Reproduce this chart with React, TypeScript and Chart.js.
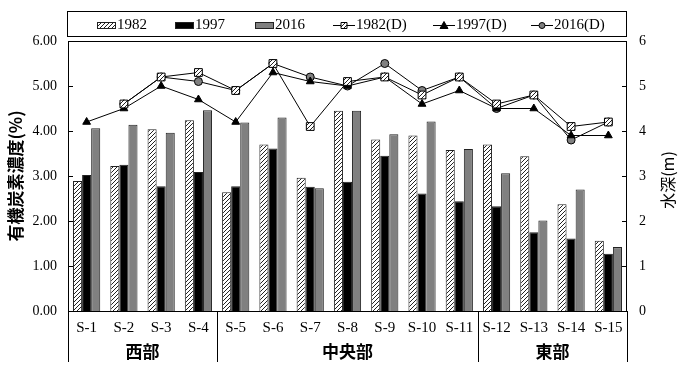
import React, { useEffect, useRef } from 'react';
import { Chart, registerables } from 'chart.js';

Chart.register(...registerables);

const categories = ['S-1', 'S-2', 'S-3', 'S-4', 'S-5', 'S-6', 'S-7', 'S-8', 'S-9', 'S-10', 'S-11', 'S-12', 'S-13', 'S-14', 'S-15'];
const regionNames = ['西部', '中央部', '東部'];
const regionFirst = [0, 4, 11];
const regionLast = [3, 10, 14];

const toc1982 = [2.89, 3.22, 4.04, 4.24, 2.64, 3.70, 2.96, 4.45, 3.81, 3.90, 3.58, 3.70, 3.44, 2.37, 1.56];
const toc1997 = [3.02, 3.25, 2.77, 3.09, 2.77, 3.61, 2.76, 2.87, 3.45, 2.61, 2.44, 2.33, 1.75, 1.61, 1.27];
const toc2016 = [4.06, 4.14, 3.96, 4.46, 4.19, 4.30, 2.73, 4.45, 3.93, 4.21, 3.60, 3.06, 2.01, 2.70, 1.42];

const depth1982 = [null, 4.6, 5.2, 5.3, 4.9, 5.5, 4.1, 5.1, 5.2, 4.8, 5.2, 4.6, 4.8, 4.1, 4.2];
const depth1997 = [4.2, 4.5, 5.0, 4.7, 4.2, 5.3, 5.1, 5.0, 5.2, 4.6, 4.9, 4.5, 4.5, 3.9, 3.9];
const depth2016 = [null, 4.6, 5.2, 5.1, 4.9, 5.5, 5.2, 5.0, 5.5, 4.9, 5.2, 4.5, 4.8, 3.8, 4.2];

const leftTicks = [0, 1, 2, 3, 4, 5, 6];
const leftTitle = '有機炭素濃度(%)';
const rightTitle = '水深(m)';
const barLabels = ['1982', '1997', '2016'];
const lineLabels = ['1982(D)', '1997(D)', '2016(D)'];

const SERIF = '"Liberation Serif", "Times New Roman", serif';
const CJK = '"Noto Sans CJK JP", "Noto Sans", sans-serif';
const GRAY = '#808080';

function makeHatch(): CanvasPattern {
  const c = document.createElement('canvas');
  c.width = 4;
  c.height = 4;
  const g = c.getContext('2d')!;
  g.fillStyle = '#fff';
  g.fillRect(0, 0, 4, 4);
  g.strokeStyle = '#222';
  g.lineWidth = 1;
  g.beginPath();
  g.moveTo(0, 4); g.lineTo(4, 0);
  g.moveTo(-1, 1); g.lineTo(1, -1);
  g.moveTo(3, 5); g.lineTo(5, 3);
  g.stroke();
  return g.createPattern(c, 'repeat')!;
}

export default function App() {
  const ref = useRef<HTMLCanvasElement | null>(null);

  useEffect(() => {
    const canvas = ref.current;
    if (!canvas) return;
    const hatch = makeHatch();

    const decor = {
      id: 'decor',
      afterDraw(chart: any) {
        const { ctx, chartArea, scales } = chart;
        const { left, right, top, bottom } = chartArea;
        ctx.save();
        ctx.strokeStyle = '#000';
        ctx.fillStyle = '#000';
        ctx.lineWidth = 1;
        // frame
        ctx.strokeRect(left + 0.5, top + 0.5, right - left - 1, bottom - top);
        // inward ticks
        ctx.beginPath();
        for (const v of leftTicks) {
          const y = Math.round(scales.y.getPixelForValue(v)) + 0.5;
          ctx.moveTo(left, y); ctx.lineTo(left + 5, y);
          const y2 = Math.round(scales.y1.getPixelForValue(v)) + 0.5;
          ctx.moveTo(right - 5, y2); ctx.lineTo(right, y2);
        }
        ctx.stroke();
        // region separators and names
        const xs = scales.x;
        const boundary = (i: number) => {
          if (i <= 0) return left;
          if (i >= categories.length) return right;
          return (xs.getPixelForValue(i - 1) + xs.getPixelForValue(i)) / 2;
        };
        ctx.beginPath();
        const bset = new Set<number>();
        regionFirst.forEach((f) => bset.add(f));
        regionLast.forEach((l) => bset.add(l + 1));
        bset.forEach((i) => {
          const x = Math.round(boundary(i)) + 0.5;
          ctx.moveTo(x, bottom); ctx.lineTo(x, bottom + 51);
        });
        ctx.stroke();
        ctx.font = `bold 17px ${CJK}`;
        ctx.textAlign = 'center';
        ctx.textBaseline = 'middle';
        regionNames.forEach((name, k) => {
          const cx = (boundary(regionFirst[k]) + boundary(regionLast[k] + 1)) / 2;
          ctx.fillText(name, cx, 352);
        });
        // axis titles
        ctx.save();
        ctx.translate(16, (top + bottom) / 2);
        ctx.rotate(-Math.PI / 2);
        ctx.font = `bold 17px ${CJK}`;
        ctx.fillText(leftTitle, 0, 0);
        ctx.restore();
        ctx.save();
        ctx.translate(668, (top + bottom) / 2 + 4);
        ctx.rotate(-Math.PI / 2);
        ctx.font = `16px ${CJK}`;
        ctx.fillText(rightTitle, 0, 0);
        ctx.restore();
        // legend
        ctx.strokeRect(67.5, 11.5, 559, 25);
        const ly = 25.5;
        ctx.font = `15px ${SERIF}`;
        ctx.textAlign = 'left';
        const barFills: any[] = [hatch, '#000', GRAY];
        const barSw = [97, 175, 255];
        barLabels.forEach((lab, k) => {
          const x = barSw[k];
          ctx.fillStyle = barFills[k];
          ctx.fillRect(x, ly - 3.5, 19, 7);
          ctx.strokeStyle = '#222';
          ctx.strokeRect(x + 0.5, ly - 3, 18, 6);
          ctx.fillStyle = '#000';
          ctx.fillText(lab, x + 20, ly);
        });
        const lineSw = [333, 433, 531];
        lineLabels.forEach((lab, k) => {
          const x = lineSw[k];
          const cx = x + 11;
          ctx.strokeStyle = '#000';
          ctx.beginPath();
          ctx.moveTo(x, ly); ctx.lineTo(x + 22, ly);
          ctx.stroke();
          ctx.beginPath();
          if (k === 0) {
            ctx.rect(cx - 3, ly - 3, 6, 6);
            ctx.fillStyle = hatch;
          } else if (k === 1) {
            ctx.moveTo(cx, ly - 4); ctx.lineTo(cx + 4, ly + 3); ctx.lineTo(cx - 4, ly + 3); ctx.closePath();
            ctx.fillStyle = '#000';
          } else {
            ctx.arc(cx, ly, 3, 0, Math.PI * 2);
            ctx.fillStyle = GRAY;
          }
          ctx.fill();
          ctx.stroke();
          ctx.fillStyle = '#000';
          ctx.fillText(lab, x + 23, ly);
        });
        ctx.restore();
      },
    };

    const lineCommon = {
      type: 'line' as const,
      yAxisID: 'y1',
      borderColor: '#000',
      borderWidth: 1,
      pointBorderColor: '#000',
      pointBorderWidth: 1,
      fill: false,
      tension: 0,
      order: 0,
    };
    const barCommon = {
      type: 'bar' as const,
      yAxisID: 'y',
      borderColor: '#222',
      borderWidth: 1,
      categoryPercentage: 0.73,
      barPercentage: 1,
      order: 1,
    };

    const chart = new Chart(canvas, {
      type: 'bar',
      data: {
        labels: categories,
        datasets: [
          { ...lineCommon, label: lineLabels[0], data: depth1982, pointStyle: 'rect', pointRadius: 5.5, pointBackgroundColor: hatch },
          { ...lineCommon, label: lineLabels[1], data: depth1997, pointStyle: 'triangle', pointRadius: 4.5, pointBackgroundColor: '#000' },
          { ...lineCommon, label: lineLabels[2], data: depth2016, pointStyle: 'circle', pointRadius: 4, pointBackgroundColor: GRAY },
          { ...barCommon, label: barLabels[0], data: toc1982, backgroundColor: hatch },
          { ...barCommon, label: barLabels[1], data: toc1997, backgroundColor: '#000' },
          { ...barCommon, label: barLabels[2], data: toc2016, backgroundColor: GRAY },
        ] as any,
      },
      options: {
        responsive: false,
        animation: false,
        layout: { padding: { top: 41, left: 0, right: 0, bottom: 0 } },
        plugins: { legend: { display: false }, tooltip: { enabled: false }, title: { display: false } },
        scales: {
          x: {
            grid: { display: false, drawTicks: false },
            border: { display: false },
            ticks: { color: '#000', font: { family: SERIF, size: 15 }, padding: 8, maxRotation: 0, autoSkip: false },
            afterFit: (s: any) => { s.height = 75; },
          },
          y: {
            position: 'left',
            min: 0,
            max: 6,
            grid: { display: false, drawTicks: false },
            border: { display: false },
            ticks: { stepSize: 1, color: '#000', font: { family: SERIF, size: 14 }, padding: 11, callback: (v: any) => Number(v).toFixed(2) },
            afterFit: (s: any) => { s.width = 68; },
          },
          y1: {
            position: 'right',
            min: 0,
            max: 6,
            grid: { display: false, drawTicks: false },
            border: { display: false },
            ticks: { stepSize: 1, color: '#000', font: { family: SERIF, size: 14 }, padding: 12 },
            afterFit: (s: any) => { s.width = 59; },
          },
        },
      } as any,
      plugins: [decor],
    });
    return () => chart.destroy();
  }, []);

  return (
    <div style={{ position: 'fixed', left: 0, top: 0, width: 686, height: 386, background: '#fff' }}>
      <canvas ref={ref} width={686} height={386} style={{ display: 'block' }} />
    </div>
  );
}
